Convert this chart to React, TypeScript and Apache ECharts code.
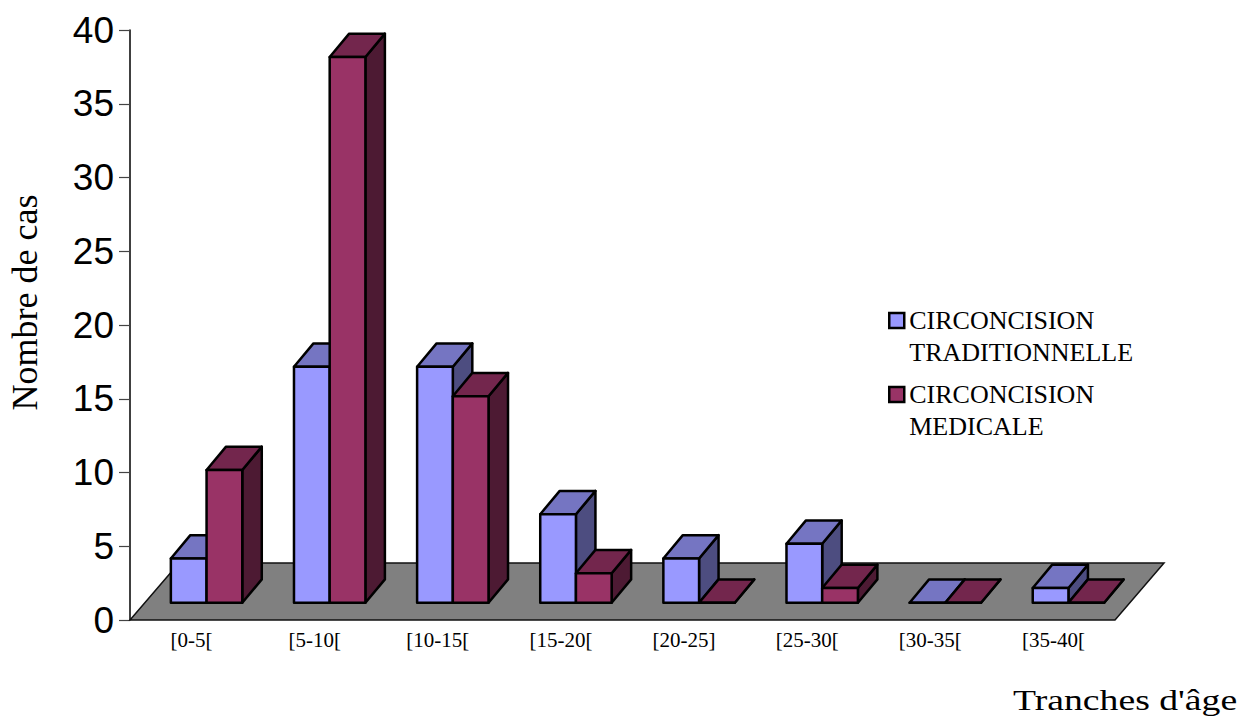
import React, { useEffect, useRef } from "react";
import * as echarts from "echarts";

const categories = ["[0-5[", "[5-10[", "[10-15[", "[15-20[", "[20-25]", "[25-30[", "[30-35[", "[35-40["];
const traditionnelle = [3, 16, 16, 6, 3, 4, 0, 1];
const medicale = [9, 37, 14, 2, 0, 1, 0, 0];
const seriesNames = ["CIRCONCISION\nTRADITIONNELLE", "CIRCONCISION\nMEDICALE"];
const yMin = 0;
const yMax = 40;
const yStep = 5;

const TRAD = { front: "#9999FF", top: "#7575C2", side: "#4D4D80" };
const MED = { front: "#993366", top: "#73264D", side: "#4D1A33" };

// oblique projection constants (px)
const FLOOR_DX = 49;
const FLOOR_DY = -57;
const FRONT_DX = 15;
const FRONT_DY = -17.3;
const BAR_DX = 19.5;
const BAR_DY = -23.3;
const BAR_FRAC = 0.29;

function barRenderer(side: number, c: { front: string; top: string; side: string }) {
  return (params: any, api: any) => {
    const ci = api.value(0);
    const v = api.value(1);
    const base = api.coord([ci, 0]);
    const top = api.coord([ci, v]);
    const band = api.size([1, 0])[0];
    const w = band * BAR_FRAC;
    const x0 = base[0] + FRONT_DX + (side === 0 ? -w : 0);
    const yb = base[1] + FRONT_DY;
    const yt = top[1] + FRONT_DY;
    const stroke = { stroke: "#000", lineWidth: 2.5, lineJoin: "round" };
    return {
      type: "group",
      children: [
        {
          type: "polygon",
          shape: { points: [[x0 + w, yt], [x0 + w + BAR_DX, yt + BAR_DY], [x0 + w + BAR_DX, yb + BAR_DY], [x0 + w, yb]] },
          style: { fill: c.side, ...stroke },
        },
        {
          type: "polygon",
          shape: { points: [[x0, yt], [x0 + w, yt], [x0 + w + BAR_DX, yt + BAR_DY], [x0 + BAR_DX, yt + BAR_DY]] },
          style: { fill: c.top, ...stroke },
        },
        {
          type: "rect",
          shape: { x: x0, y: yt, width: w, height: yb - yt },
          style: { fill: c.front, ...stroke },
        },
      ],
    };
  };
}

export default function App() {
  const ref = useRef<HTMLDivElement>(null);
  useEffect(() => {
    if (!ref.current) return;
    const chart = echarts.init(ref.current, undefined, { renderer: "svg" });
    const serif = "'Liberation Serif', 'Times New Roman', serif";
    chart.setOption({
      animation: false,
      backgroundColor: "#fff",
      grid: { left: 130, top: 30, width: 985, height: 590, containLabel: false },
      xAxis: {
        type: "category",
        data: categories,
        axisLine: { show: false },
        axisTick: { show: false },
        axisLabel: { interval: 0, fontFamily: serif, fontSize: 21, color: "#000", margin: 9 },
        splitLine: { show: false },
      },
      yAxis: {
        type: "value",
        min: yMin,
        max: yMax,
        interval: yStep,
        axisLine: { show: true, lineStyle: { color: "#000", width: 1.5 } },
        axisTick: { show: true, length: 11, lineStyle: { color: "#444", width: 1.2 } },
        axisLabel: { fontFamily: "'Liberation Sans', Arial, sans-serif", fontSize: 37, color: "#000", margin: 16 },
        splitLine: { show: false },
      },
      legend: {
        data: seriesNames,
        orient: "vertical",
        left: 888,
        top: 272.5,
        padding: 0,
        itemWidth: 15,
        itemHeight: 15,
        itemGap: -22,
        icon: "rect",
        selectedMode: false,
        formatter: (name: string) => "\n" + name,
        itemStyle: { borderColor: "#000", borderWidth: 2.5 },
        textStyle: { fontFamily: serif, fontSize: 26, lineHeight: 32, color: "#000" },
      },
      graphic: [
        {
          type: "text",
          x: 25,
          y: 302.5,
          rotation: Math.PI / 2,
          style: { text: "Nombre de cas", font: `36px ${serif}`, fill: "#000", verticalAlign: "middle", align: "center" },
        },
        {
          type: "text",
          x: 1013,
          y: 700,
          scaleX: 1.3,
          style: { text: "Tranches d'âge", font: `29px ${serif}`, fill: "#000", verticalAlign: "middle", align: "left" },
        },
      ],
      series: [
        {
          type: "custom",
          name: "floor",
          silent: true,
          clip: false,
          data: [[0, 0]],
          renderItem: (params: any) => {
            const cs = params.coordSys;
            const yb = cs.y + cs.height;
            return {
              type: "polygon",
              shape: {
                points: [
                  [cs.x, yb],
                  [cs.x + cs.width, yb],
                  [cs.x + cs.width + FLOOR_DX, yb + FLOOR_DY],
                  [cs.x + FLOOR_DX, yb + FLOOR_DY],
                ],
              },
              style: { fill: "#808080", stroke: "#111", lineWidth: 1.5 },
            };
          },
        },
        {
          type: "custom",
          name: seriesNames[0],
          clip: false,
          itemStyle: { color: TRAD.front },
          data: traditionnelle.map((v, i) => [i, v]),
          renderItem: barRenderer(0, TRAD),
        },
        {
          type: "custom",
          name: seriesNames[1],
          clip: false,
          itemStyle: { color: MED.front },
          data: medicale.map((v, i) => [i, v]),
          renderItem: barRenderer(1, MED),
        },
      ],
    });
    return () => chart.dispose();
  }, []);
  return <div ref={ref} style={{ position: "fixed", left: 0, top: 0, width: 1251, height: 725 }} />;
}
